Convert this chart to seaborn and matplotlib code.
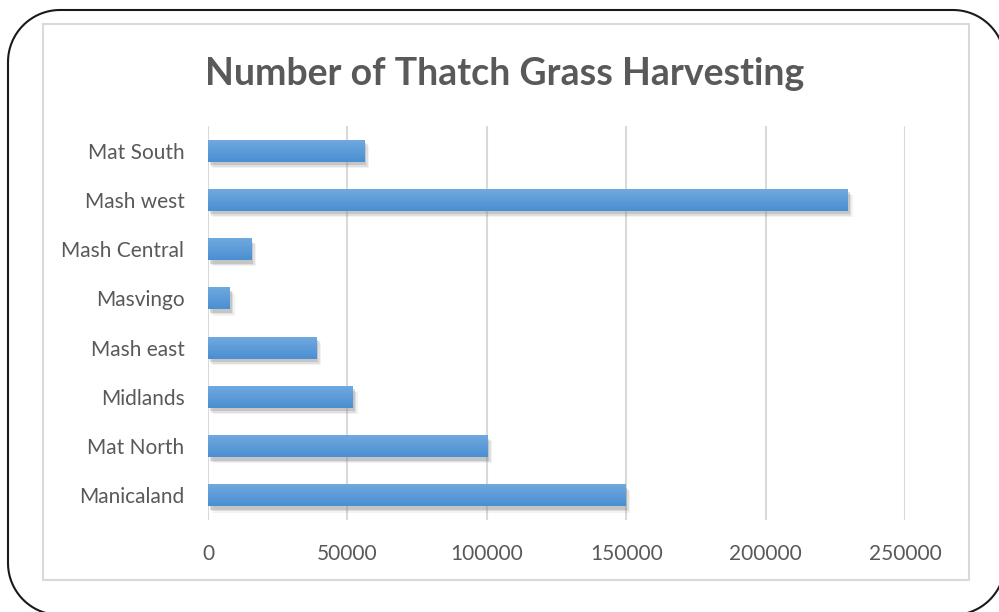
import numpy as np
import pandas as pd
import matplotlib
matplotlib.use("Agg")
import matplotlib.pyplot as plt
import matplotlib.patheffects as pe
from matplotlib.patches import PathPatch, Rectangle
from matplotlib.path import Path
from matplotlib.transforms import IdentityTransform
from matplotlib.colors import LinearSegmentedColormap
import seaborn as sns

regions = ["Mat South", "Mash west", "Mash Central", "Masvingo",
           "Mash east", "Midlands", "Mat North", "Manicaland"]
harvests = [56000, 229500, 15500, 7800, 38800, 52000, 100200, 149700]
x_ticks = [0, 50000, 100000, 150000, 200000, 250000]

df = pd.DataFrame({"region": regions, "harvests": harvests})

sns.set_theme(style="white")
plt.rcParams["font.family"] = ["Lato", "DejaVu Sans"]

W, H = 999, 612
fig = plt.figure(figsize=(W / 100, H / 100), dpi=100)
fig.patch.set_facecolor("white")


def rounded_rect(x0, y0, x1, y1, r, n=24):
    """Closed outline of a rectangle with circular corners (pixel units)."""
    pts = []
    corners = [(x1 - r, y1 - r, 0), (x0 + r, y1 - r, 90),
               (x0 + r, y0 + r, 180), (x1 - r, y0 + r, 270)]
    for cx, cy, a0 in corners:
        t = np.radians(np.linspace(a0, a0 + 90, n))
        pts.extend(zip(cx + r * np.cos(t), cy + r * np.sin(t)))
    pts.append(pts[0])
    return Path(np.array(pts))


# rounded outer frame, in display pixels (origin bottom-left)
outer = PathPatch(rounded_rect(8, H - 615, 1005, H - 10, 52),
                  transform=IdentityTransform(), fill=False,
                  edgecolor="#1a1a1a", linewidth=1.5, clip_on=False)
fig.patches.append(outer)

# chart area border
inner = Rectangle((43, H - 580), 926, 556, transform=IdentityTransform(),
                  fill=False, edgecolor="#d9d9d9", linewidth=1.5)
fig.patches.append(inner)

ax = fig.add_axes([208 / W, 1 - 520 / H, 697 / W, 394 / H])
ax.set_facecolor("none")

sns.barplot(data=df, y="region", x="harvests", orient="h",
            color="#5b9bd5", width=0.45, ax=ax, saturation=1,
            edgecolor="none", zorder=3)

grad = LinearSegmentedColormap.from_list("bar", ["#72aadf", "#4a8fd2"])
gradient = np.linspace(0, 1, 64).reshape(-1, 1)
for bar in ax.patches:
    bar.set_path_effects([
        pe.SimplePatchShadow(offset=(3.5, -4.5), shadow_rgbFace="#9a9a9a", alpha=0.12),
        pe.SimplePatchShadow(offset=(2.5, -3.5), shadow_rgbFace="#8a8a8a", alpha=0.18),
        pe.SimplePatchShadow(offset=(1.5, -2.5), shadow_rgbFace="#7a7a7a", alpha=0.25),
        pe.Normal()])
    x0, y0 = bar.get_x(), bar.get_y()
    w, h = bar.get_width(), bar.get_height()
    im = ax.imshow(gradient, extent=[x0, x0 + w, y0 + h, y0], aspect="auto",
                   cmap=grad, zorder=4, origin="upper")
    im.set_clip_path(bar)

ax.set_xlim(0, 250000)
ax.set_ylim(7.5, -0.5)
ax.set_xticks(x_ticks)
ax.set_xticklabels([str(t) for t in x_ticks])
ax.grid(axis="x", color="#d9d9d9", linewidth=1.5, zorder=0)
ax.grid(axis="y", visible=False)
ax.set_axisbelow(True)
for s in ax.spines.values():
    s.set_visible(False)
ax.tick_params(axis="both", length=0, labelsize=15, labelcolor="#595959")
ax.tick_params(axis="y", pad=17)
ax.tick_params(axis="x", pad=17)
ax.set_xlabel("")
ax.set_ylabel("")

fig.text(505 / W, 1 - 74 / H, "Number of Thatch Grass Harvesting",
         ha="center", va="center", fontsize=27, fontweight="bold",
         color="#595959")

fig.savefig("out.png", dpi=100)
